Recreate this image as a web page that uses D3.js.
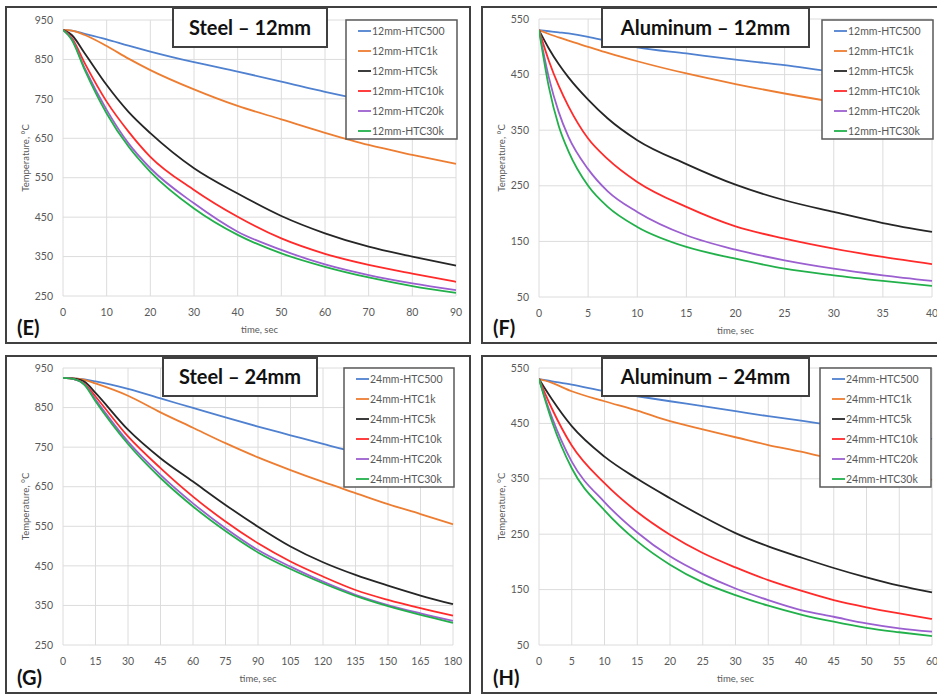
<!DOCTYPE html>
<html>
<head>
<meta charset="utf-8">
<script src="https://cdn.jsdelivr.net/npm/d3@7"></script>
<style>
  body { margin: 0; background: #fff; }
  svg { display: block; font-family: Lato, "Open Sans", sans-serif; }
</style>
</head>
<body>
<svg id="chart" width="937" height="696"></svg>
<script>
// series names + colours
const htcLevels = ["HTC500", "HTC1k", "HTC5k", "HTC10k", "HTC20k", "HTC30k"];
const seriesColors = ["#4f81d0", "#ed7d31", "#262626", "#ff2a2a", "#9b5fd0", "#22b04b"];

// (E) Steel - 12mm
const steel12Time = [0, 2, 5, 10, 15, 20, 30, 40, 50, 60, 70, 80, 90];
const steel12Temps = [
  [925, 923, 915, 901, 885, 870, 843, 819, 794, 768, 745, 725, 705],
  [925, 923, 912, 884, 852, 823, 774, 732, 698, 664, 633, 608, 585],
  [925, 912, 865, 785, 717, 663, 574, 510, 453, 409, 375, 350, 327],
  [925, 905, 840, 743, 667, 603, 519, 451, 396, 357, 329, 307, 286],
  [925, 902, 827, 722, 637, 574, 485, 413, 367, 330, 303, 282, 265],
  [925, 900, 823, 713, 629, 565, 472, 405, 358, 324, 297, 275, 258],
];

// (F) Aluminum - 12mm
const alu12Time = [0, 1, 2, 3, 5, 7, 10, 15, 20, 25, 30, 35, 40];
const alu12Temps = [
  [530, 528, 526, 524, 518, 510, 499, 488, 477, 467, 455, 447, 440],
  [530, 523, 517, 511, 500, 489, 474, 452, 433, 416, 401, 389, 378],
  [530, 497, 469, 445, 405, 371, 332, 289, 252, 224, 203, 183, 167],
  [530, 475, 430, 393, 335, 298, 257, 212, 177, 155, 137, 122, 109],
  [530, 445, 383, 338, 280, 240, 203, 161, 135, 116, 101, 89, 79],
  [530, 428, 358, 312, 250, 212, 176, 140, 119, 101, 89, 79, 70],
];

// (G) Steel - 24mm
const steel24Time = [0, 5, 10, 15, 30, 45, 60, 75, 90, 105, 120, 135, 150, 165, 180];
const steel24Temps = [
  [925, 924, 921, 916, 897, 873, 849, 825, 802, 780, 758, 737, 720, 705, 690],
  [925, 924, 920, 911, 880, 838, 799, 760, 724, 692, 662, 634, 606, 581, 555],
  [925, 923, 915, 887, 794, 722, 663, 604, 549, 499, 459, 427, 400, 375, 353],
  [925, 922, 910, 878, 777, 697, 625, 562, 507, 461, 423, 389, 364, 343, 324],
  [925, 922, 908, 870, 764, 680, 608, 545, 490, 448, 410, 377, 351, 330, 311],
  [925, 922, 907, 866, 758, 672, 600, 538, 484, 442, 406, 374, 348, 326, 306],
];

// (H) Aluminum - 24mm
const alu24Time = [0, 1, 2, 5, 10, 15, 20, 25, 30, 35, 40, 45, 50, 55, 60];
const alu24Temps = [
  [530, 528, 526, 520, 508, 499, 490, 481, 472, 463, 455, 446, 436, 429, 422],
  [530, 527, 523, 508, 490, 473, 454, 439, 425, 411, 399, 385, 372, 360, 348],
  [530, 511, 493, 445, 390, 350, 315, 282, 252, 228, 208, 189, 172, 157, 145],
  [530, 502, 476, 410, 342, 290, 249, 216, 190, 167, 148, 131, 118, 107, 97],
  [530, 493, 460, 381, 308, 253, 210, 178, 152, 131, 113, 101, 89, 80, 74],
  [530, 490, 453, 369, 293, 237, 195, 163, 140, 121, 105, 92, 81, 73, 66],
];

// axis ticks
const steel12XTicks = d3.range(0, 91, 10);
const alu12XTicks = d3.range(0, 41, 5);
const steel24XTicks = d3.range(0, 181, 15);
const alu24XTicks = d3.range(0, 61, 5);
const steelYTicks = d3.range(250, 951, 100);
const aluYTicks = d3.range(50, 551, 100);

/***********************
 * panel layout
 ************************/
const panels = [
  { letter: "(E)", title: "Steel \u2013 12mm", prefix: "12mm", time: steel12Time, temps: steel12Temps,
    xTicks: steel12XTicks, yTicks: steelYTicks,
    box: [6, 7, 464, 336], plot: [63, 20, 456, 296], titleBox: [173, 8, 154, 39], legend: [346, 20, 111, 119] },
  { letter: "(F)", title: "Aluminum \u2013 12mm", prefix: "12mm", time: alu12Time, temps: alu12Temps,
    xTicks: alu12XTicks, yTicks: aluYTicks,
    box: [482, 7, 470, 336], plot: [539, 19, 932, 297], titleBox: [602, 8, 207, 39], legend: [822, 20, 111, 119] },
  { letter: "(G)", title: "Steel \u2013 24mm", prefix: "24mm", time: steel24Time, temps: steel24Temps,
    xTicks: steel24XTicks, yTicks: steelYTicks,
    box: [6, 356, 464, 337], plot: [63, 368, 453, 645], titleBox: [163, 358, 154, 38], legend: [344, 368, 110, 119] },
  { letter: "(H)", title: "Aluminum \u2013 24mm", prefix: "24mm", time: alu24Time, temps: alu24Temps,
    xTicks: alu24XTicks, yTicks: aluYTicks,
    box: [482, 356, 470, 337], plot: [539, 368, 932, 645], titleBox: [602, 358, 207, 38], legend: [820, 368, 111, 119] },
];

const svg = d3.select("#chart");
const textGray = "#595959";

panels.forEach((p, i) => {
  const g = svg.append("g");
  const [x0, y0, x1, y1] = p.plot;

  // scales
  const x = d3.scaleLinear().domain(d3.extent(p.xTicks)).range([x0, x1]);
  const y = d3.scaleLinear().domain(d3.extent(p.yTicks)).range([y1, y0]);

  // outer frame
  g.append("rect")
    .attr("x", p.box[0]).attr("y", p.box[1])
    .attr("width", p.box[2]).attr("height", p.box[3])
    .attr("fill", "#fff").attr("stroke", "#404040").attr("stroke-width", 2);

  // grid
  g.append("g").selectAll("line").data(p.yTicks).join("line")
    .attr("x1", x0).attr("x2", x1)
    .attr("y1", (d) => y(d)).attr("y2", (d) => y(d))
    .attr("stroke", "#dcdcdc").attr("stroke-width", 1);
  g.append("g").selectAll("line").data(p.xTicks).join("line")
    .attr("x1", (d) => x(d)).attr("x2", (d) => x(d))
    .attr("y1", y0).attr("y2", y1)
    .attr("stroke", "#dcdcdc").attr("stroke-width", 1);

  // tick labels
  g.append("g").selectAll("text").data(p.yTicks).join("text")
    .attr("x", x0 - 10).attr("y", (d) => y(d)).attr("dy", "0.35em")
    .attr("text-anchor", "end").attr("font-size", 10.5).attr("fill", textGray)
    .text((d) => d);
  g.append("g").selectAll("text").data(p.xTicks).join("text")
    .attr("x", (d) => x(d)).attr("y", y1 + 16).attr("dy", "0.35em")
    .attr("text-anchor", "middle").attr("font-size", 10.5).attr("fill", textGray)
    .text((d) => d);

  // axis titles
  g.append("text")
    .attr("x", (x0 + x1) / 2).attr("y", y1 + 34).attr("dy", "0.35em")
    .attr("text-anchor", "middle").attr("font-size", 9.5).attr("fill", textGray)
    .text("time, sec");
  g.append("text")
    .attr("transform", `translate(${x0 - 37},${(y0 + y1) / 2}) rotate(-90)`)
    .attr("dy", "0.35em")
    .attr("text-anchor", "middle").attr("font-size", 9.5).attr("fill", textGray)
    .text("Temperature, \u00b0C");

  // curves
  const clipId = "clip" + i;
  g.append("clipPath").attr("id", clipId).append("rect")
    .attr("x", x0).attr("y", y0 - 2).attr("width", x1 - x0 + 2).attr("height", y1 - y0 + 4);
  const line = d3.line()
    .x((d, k) => x(p.time[k]))
    .y((d) => y(d))
    .curve(d3.curveMonotoneX);
  g.append("g").attr("clip-path", `url(#${clipId})`)
    .selectAll("path").data(p.temps).join("path")
    .attr("d", line)
    .attr("fill", "none")
    .attr("stroke", (d, k) => seriesColors[k])
    .attr("stroke-width", 1.8);

  // title box
  g.append("rect")
    .attr("x", p.titleBox[0]).attr("y", p.titleBox[1])
    .attr("width", p.titleBox[2]).attr("height", p.titleBox[3])
    .attr("fill", "#fff").attr("stroke", "#404040").attr("stroke-width", 2);
  g.append("text")
    .attr("x", p.titleBox[0] + p.titleBox[2] / 2).attr("y", p.titleBox[1] + p.titleBox[3] / 2)
    .attr("dy", "0.36em").attr("text-anchor", "middle")
    .attr("font-size", 20).attr("font-weight", "bold").attr("fill", "#111")
    .text(p.title);

  // legend
  const [lx, ly, lw, lh] = p.legend;
  g.append("rect")
    .attr("x", lx).attr("y", ly).attr("width", lw).attr("height", lh)
    .attr("fill", "#fff").attr("stroke", "#595959").attr("stroke-width", 1.5);
  const item = g.append("g").selectAll("g").data(htcLevels).join("g")
    .attr("transform", (d, k) => `translate(${lx + 12},${ly + 11 + k * 20})`);
  item.append("line")
    .attr("x1", 0).attr("x2", 13)
    .attr("stroke", (d, k) => seriesColors[k]).attr("stroke-width", 1.8);
  item.append("text")
    .attr("x", 14).attr("dy", "0.35em")
    .attr("font-size", 10.5).attr("fill", textGray)
    .text((d) => p.prefix + "-" + d);

  // panel letter
  g.append("text")
    .attr("x", p.box[0] + 11).attr("y", p.box[3] + p.box[1] - 8)
    .attr("font-size", 20).attr("font-weight", "bold").attr("fill", "#111")
    .text(p.letter);
});
</script>
</body>
</html>
